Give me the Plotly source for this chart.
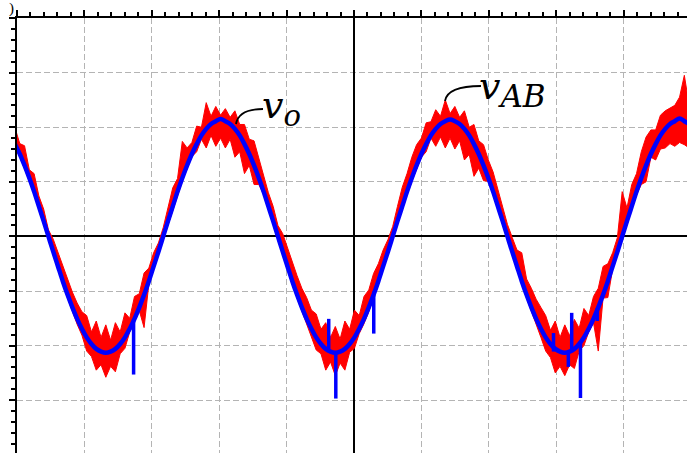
import numpy as np
import plotly.graph_objects as go

# Oscilloscope capture in screen divisions (10 x 8 div box).
# Samples are spaced 1/48 of the fundamental period.
PERIOD_DIV = 3.405
T0 = -5.030

# filtered output voltage v_o
v_o = [
    1.69, 1.51, 1.30, 1.07, 0.82, 0.55, 0.28, 0.00, -0.28, -0.55, -0.82, -1.07, -1.30, -1.51, -1.69, -1.85,
    -1.97, -2.06, -2.11, -2.13, -2.11, -2.06, -1.97, -1.85, -1.69, -1.51, -1.30, -1.07, -0.82, -0.55, -0.28,
    0.00, 0.28, 0.55, 0.82, 1.07, 1.30, 1.51, 1.69, 1.85, 1.97, 2.06, 2.11, 2.15, 2.11, 2.06, 1.97,
    1.85, 1.69, 1.51, 1.30, 1.07, 0.82, 0.55, 0.28, 0.00, -0.28, -0.55, -0.82, -1.07, -1.30, -1.51, -1.69,
    -1.85, -1.97, -2.06, -2.11, -2.13, -2.11, -2.06, -1.97, -1.85, -1.69, -1.51, -1.30, -1.07, -0.82, -0.55, -0.28,
    0.00, 0.28, 0.55, 0.82, 1.07, 1.30, 1.51, 1.69, 1.85, 1.97, 2.06, 2.11, 2.14, 2.11, 2.06, 1.97,
    1.85, 1.69, 1.51, 1.30, 1.07, 0.82, 0.55, 0.28, 0.00, -0.28, -0.55, -0.82, -1.07, -1.30, -1.51, -1.69,
    -1.85, -1.97, -2.06, -2.11, -2.13, -2.11, -2.06, -1.97, -1.85, -1.69, -1.51, -1.30, -1.07, -0.82, -0.55, -0.28,
    0.00, 0.28, 0.55, 0.82, 1.07, 1.30, 1.51, 1.69, 1.85, 1.97, 2.06, 2.11, 2.16, 2.11, 2.06,
]

# switched bridge voltage v_AB: upper and lower excursion at each sample
v_ab_hi = [
    1.99, 1.70, 1.66, 1.22, 1.15, 0.74, 0.50, 0.12, -0.05, -0.30, -0.55, -0.80, -1.02, -1.22, -1.38,
    -1.45, -1.75, -1.55, -1.85, -1.62, -1.90, -1.58, -1.75, -1.40, -1.50,
    -1.10, -1.05, -0.67, -0.58, -0.30, -0.12,
    0.16, 0.50, 0.89, 1.06, 1.74,
    1.62, 1.72, 2.02, 2.00, 2.45, 2.20, 2.38, 2.22, 2.34, 2.18, 2.30, 2.05, 2.05, 1.78, 1.75,
    1.42, 1.12, 0.80, 0.55, 0.20, 0.05, -0.22, -0.46, -0.72, -0.95, -1.12, -1.35,
    -1.42, -1.70, -1.58, -1.85, -1.65, -1.88, -1.55, -1.70, -1.35, -1.45,
    -1.10, -0.98, -0.68, -0.50, -0.25, -0.06,
    0.18, 0.55, 0.90, 1.15, 1.45,
    1.68, 1.80, 2.08, 2.10, 2.32, 2.20, 2.50, 2.25, 2.38, 2.18, 2.30, 2.00, 2.05, 1.75, 1.68,
    1.40, 1.18, 0.85, 0.50, 0.22, -0.02, -0.25, -0.30, -0.78, -0.95, -1.15, -1.30,
    -1.45, -1.72, -1.55, -1.85, -1.62, -1.82, -1.52, -1.68, -1.32, -1.45,
    -1.10, -0.95, -0.55, -0.50, -0.30, -0.02,
    0.82, 0.52, 0.95, 1.15, 1.55, 1.82, 1.95, 1.95, 2.22, 2.30, 2.35, 2.40, 2.55, 2.95, 2.40,
]
v_ab_lo = [
    1.63, 1.46, 1.24, 1.02, 0.77, 0.49, 0.23, -0.06, -0.33, -0.60, -0.88, -1.13, -1.37, -1.61, -1.81,
    -2.10, -2.20, -2.45, -2.35, -2.58, -2.38, -2.48, -2.15, -2.05, -1.75,
    -1.57, -1.36, -1.67, -0.87, -0.60, -0.33,
    -0.05, 0.23, 0.49, 0.77, 1.01,
    1.24, 1.46, 1.55, 1.78, 1.62, 1.85, 1.65, 1.80, 1.62, 1.78, 1.45, 1.55, 1.15, 1.30, 0.95,
    0.95, 0.77, 0.49, 0.23, -0.06, -0.34, -0.61, -0.88, -1.13, -1.37, -1.60, -1.82,
    -2.08, -2.15, -2.45, -2.30, -2.55, -2.32, -2.45, -2.12, -2.05, -1.78,
    -1.60, -1.38, -1.13, -0.87, -0.60, -0.33,
    -0.05, 0.23, 0.49, 0.76, 1.01, 1.24, 1.45,
    1.55, 1.80, 1.65, 1.82, 1.62, 1.80, 1.60, 1.75, 1.40, 1.50, 1.10, 1.25, 1.02,
    1.01, 0.77, 0.49, 0.23, -0.06, -0.34, -0.61, -0.88, -1.13, -1.36, -1.60, -1.85,
    -2.10, -2.22, -2.50, -2.38, -2.55, -2.35, -2.42, -2.10, -2.00, -1.75,
    -1.58, -2.10, -1.13, -1.12, -0.60, -0.33,
    -0.05, 0.23, 0.48, 0.76, 0.95, 1.00, 1.45, 1.40, 1.60, 1.62, 1.70, 1.65, 1.72, 1.68, 1.62,
]

# short glitches on v_o (time, start level, end level)
glitch_t = [-3.27, -0.375, -0.27, 0.293, 2.96, 3.18, 3.23, 3.36, 3.61]
glitch_from = [-1.51, -1.51, -2.11, -1.01, -1.77, -2.11, -1.40, -1.93, -1.31]
glitch_to = [-2.53, -2.11, -2.97, -1.78, -2.11, -2.39, -2.08, -2.96, -1.55]

dt = PERIOD_DIV / 48
t = T0 + dt * np.arange(len(v_o))

fig = go.Figure()

# v_AB: band between its lower and upper excursions
fig.add_trace(go.Scatter(x=t, y=v_ab_lo, mode="lines",
                         line=dict(color="#ff0000", width=1.0), hoverinfo="skip"))
fig.add_trace(go.Scatter(x=t, y=v_ab_hi, mode="lines", fill="tonexty",
                         fillcolor="#ff0000", line=dict(color="#ff0000", width=1.0),
                         hoverinfo="skip"))

# v_o
fig.add_trace(go.Scatter(x=t, y=v_o, mode="lines",
                         line=dict(color="#0000ff", width=4.5, shape="spline"),
                         hoverinfo="skip"))

gx, gy = [], []
for tt, a, b in zip(glitch_t, glitch_from, glitch_to):
    gx += [tt, tt, None]
    gy += [a, b, None]
fig.add_trace(go.Scatter(x=gx, y=gy, mode="lines",
                         line=dict(color="#0000ff", width=3.5), hoverinfo="skip"))

PX_X = 67.4   # pixels per horizontal division
PX_Y = 54.6   # pixels per vertical division
W, H = 687, 453
ML, MT = 17, 18

axis_style = dict(
    showgrid=True, gridcolor="#b4b4b4", gridwidth=1.4, griddash="6px,3px",
    zeroline=True, zerolinecolor="black", zerolinewidth=1.6,
    showline=True, linecolor="black", linewidth=2.2,
    ticks="outside", ticklen=6, tickwidth=2, tickcolor="black",
    tick0=0, dtick=1, showticklabels=False,
    minor=dict(ticks="outside", ticklen=3.5, tickwidth=1.5, tickcolor="black",
               tick0=0, dtick=0.2, showgrid=False),
    fixedrange=True,
)
fig.update_xaxes(range=[-5, -5 + (W - ML) / PX_X], side="top", **axis_style)
fig.update_yaxes(range=[4 - (H - MT) / PX_Y, 4], **axis_style)

# signal labels with curved leader lines
label_font = dict(family="DejaVu Serif", size=38, color="black")
fig.add_annotation(x=-1.40, y=2.36, xref="x", yref="y",
                   text="<i>v</i><sub><span style='font-size:29px'><i>o</i></span></sub>",
                   showarrow=False, xanchor="left", yanchor="middle", font=label_font)
fig.add_annotation(x=1.83, y=2.70, xref="x", yref="y",
                   text="<i>v</i><sub><span style='font-size:31px'><i>AB</i></span></sub>",
                   showarrow=False, xanchor="left", yanchor="middle", font=label_font)
fig.add_shape(type="path", xref="x", yref="y",
              path="M -1.350,2.333 C -1.573,2.333 -1.721,2.260 -1.751,2.059",
              line=dict(color="black", width=1.8))
fig.add_shape(type="path", xref="x", yref="y",
              path="M 1.884,2.755 C 1.602,2.755 1.380,2.700 1.350,2.480",
              line=dict(color="black", width=1.8))

# panel tag at the top-left corner
fig.add_annotation(x=(11 - ML) / (W - ML), y=1 + (MT - 9) / (H - MT), xref="paper", yref="paper",
                   text=")", showarrow=False, xanchor="center", yanchor="middle",
                   font=dict(family="Liberation Serif", size=15, color="black"))

fig.update_layout(width=W, height=H, margin=dict(l=ML, r=0, t=MT, b=0, pad=0),
                  paper_bgcolor="white", plot_bgcolor="white", showlegend=False)

fig.write_html("out.html")
